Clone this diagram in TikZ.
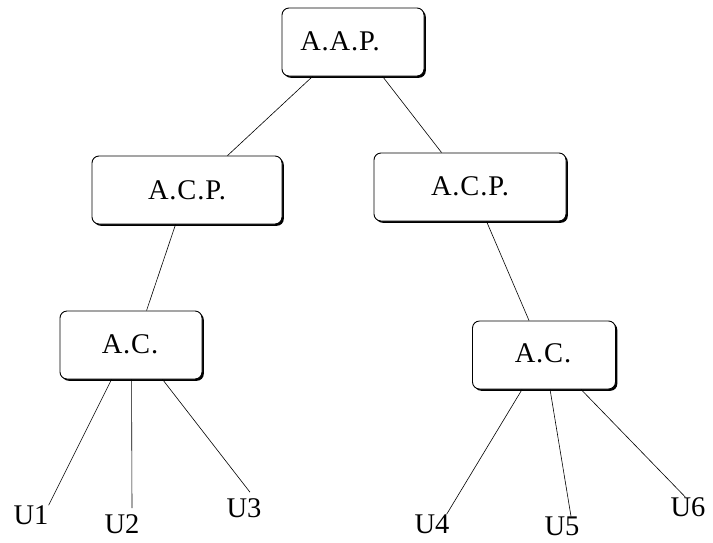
\documentclass[tikz,border=0pt]{standalone}
\usepackage{fontspec}
\setmainfont{Liberation Serif}
\newfontfamily\capfont[LetterSpace=3]{Liberation Serif}
\usetikzlibrary{shadows}
\begin{document}
\begin{tikzpicture}[x=1pt,y=-1pt,
  box/.style={draw=black, line width=0.9pt, fill=white, rounded corners=7pt,
    inner sep=0pt, minimum height=68pt,
    drop shadow={shadow xshift=1.8pt, shadow yshift=-1.8pt, opacity=1, fill=black}},
  lbl/.style={inner sep=0pt, font=\fontsize{28.5}{31}\selectfont},
  boxcaption/.style={inner sep=0pt, font=\capfont\fontsize{28.5}{31}\selectfont},
  link/.style={draw=black, line width=0.6pt}]
\useasboundingbox (0,0) rectangle (713,542);

% hierarchy boxes
\node[box, minimum width=142pt] (aap)  at (353,42) {};
\node[box, minimum width=190pt] (acpl) at (187,190) {};
\node[box, minimum width=192pt] (acpr) at (470,187) {};
\node[box, minimum width=142pt] (acl)  at (131,345) {};
\node[box, minimum width=143pt] (acr)  at (544,355) {};

% box captions
\node[boxcaption] (taap)  at (340,41)  {A.A.P.};
\node[boxcaption] (tacpl) at (187,190) {A.C.P.};
\node[boxcaption] (tacpr) at (470,186) {A.C.P.};
\node[boxcaption] (tacl)  at (130,344) {A.C.};
\node[boxcaption] (tacr)  at (543,353) {A.C.};

% leaves
\node[lbl] (u1) at (31,515)  {U1};
\node[lbl] (u2) at (122,524) {U2};
\node[lbl] (u3) at (244,508) {U3};
\node[lbl] (u4) at (432,524) {U4};
\node[lbl] (u5) at (562,526) {U5};
\node[lbl] (u6) at (688,507) {U6};

% tree links
\draw[link] ([xshift=31pt]aap.south west) -- ([xshift=136pt]acpl.north west);
\draw[link] ([xshift=101pt]aap.south west) -- ([xshift=68pt]acpr.north west);
\draw[link] ([xshift=84pt]acpl.south west) -- ([xshift=87pt]acl.north west);
\draw[link] ([xshift=113pt]acpr.south west) -- ([xshift=57pt]acr.north west);

\draw[link] ([xshift=52pt]acl.south west) -- (u1.north east);
\draw[link] ([xshift=72pt]acl.south west) -- ([xshift=10pt,yshift=6pt]u2.north);
\draw[link] ([xshift=103pt]acl.south west) -- ([xshift=6pt,yshift=6pt]u3.north);

\draw[link] ([xshift=50pt]acr.south west) -- ([xshift=-3pt]u4.north east);
\draw[link] ([xshift=78pt]acr.south west) -- ([xshift=9pt]u5.north);
\draw[link] ([xshift=109pt]acr.south west) -- ([xshift=-2.5pt]u6.north);
\end{tikzpicture}
\end{document}
